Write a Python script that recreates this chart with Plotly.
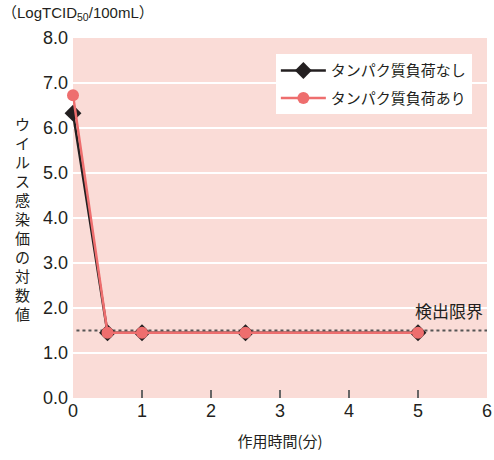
import plotly.graph_objects as go

times = [0, 0.5, 1, 2.5, 5]
no_protein = [6.33, 1.45, 1.45, 1.45, 1.45]
with_protein = [6.73, 1.45, 1.45, 1.45, 1.45]
detection_limit = 1.5
x_ticks = [0, 1, 2, 3, 4, 5, 6]
y_ticks = [0, 1, 2, 3, 4, 5, 6, 7, 8]
y_title_chars = list("ウイルス感染価の対数値")

jp = "Noto Sans CJK JP"
num = "Liberation Sans"
fig = go.Figure()

fig.add_trace(go.Scatter(x=[0.05, 6], y=[detection_limit, detection_limit], mode="lines",
                         line=dict(color="#555555", width=2, dash="dot"), showlegend=False,
                         hoverinfo="skip"))
fig.add_trace(go.Scatter(x=times, y=no_protein, mode="lines+markers", name="タンパク質負荷なし",
                         legendgroup="a", cliponaxis=False,
                         line=dict(color="#231f20", width=2.5),
                         marker=dict(symbol="diamond", size=13, color="#231f20")))
fig.add_trace(go.Scatter(x=times, y=with_protein, mode="lines+markers", name="タンパク質負荷あり",
                         legendgroup="b", cliponaxis=False,
                         line=dict(color="#ee6e6e", width=2.5),
                         marker=dict(symbol="circle", size=12, color="#ee6e6e")))

fig.update_layout(
    width=494, height=460,
    margin=dict(l=73, r=7, t=38, b=62, autoexpand=False),
    paper_bgcolor="white", plot_bgcolor="#fadcd7",
    font=dict(family=jp, color="#231f20"),
    xaxis=dict(range=[0, 6], tickvals=x_ticks, ticks="inside", ticklen=8, tickcolor="#666666",
               tickwidth=1.5, showgrid=False, zeroline=False, automargin=False,
               tickfont=dict(size=18, family=num),
               title=dict(text="作用時間(分)", font=dict(size=15, family=jp), standoff=16)),
    yaxis=dict(range=[0, 8], tickvals=y_ticks, tickformat=".1f", showgrid=True,
               gridcolor="white", gridwidth=2, zeroline=False, automargin=False,
               tickfont=dict(size=18, family=num), ticks="", ticklabelstandoff=4),
    legend=dict(x=0.49, y=0.955, xanchor="left", yanchor="top", bgcolor="white",
                font=dict(size=15), borderwidth=0, itemwidth=45, tracegroupgap=5),
    showlegend=True,
)

fig.add_annotation(text="（LogTCID<sub>50</sub>/100mL）", x=0, y=1, xref="paper", yref="paper",
                   xshift=-73, yshift=36, xanchor="left", yanchor="top", showarrow=False,
                   font=dict(size=15, family=num + ", " + jp))
for i, ch in enumerate(y_title_chars):
    fig.add_annotation(text=ch, x=0, y=1, xref="paper", yref="paper",
                       xshift=-51, yshift=-(123 - 38) - 19 * i, xanchor="center", yanchor="middle",
                       showarrow=False, font=dict(size=15))
fig.add_annotation(text="検出限界", x=5.45, y=detection_limit, xref="x", yref="y",
                   yanchor="bottom", xanchor="center", yshift=6, showarrow=False,
                   font=dict(size=17))

fig.write_html("out.html", config={"displayModeBar": False},
               post_script="document.body.style.margin='0';document.body.style.overflow='hidden';")
